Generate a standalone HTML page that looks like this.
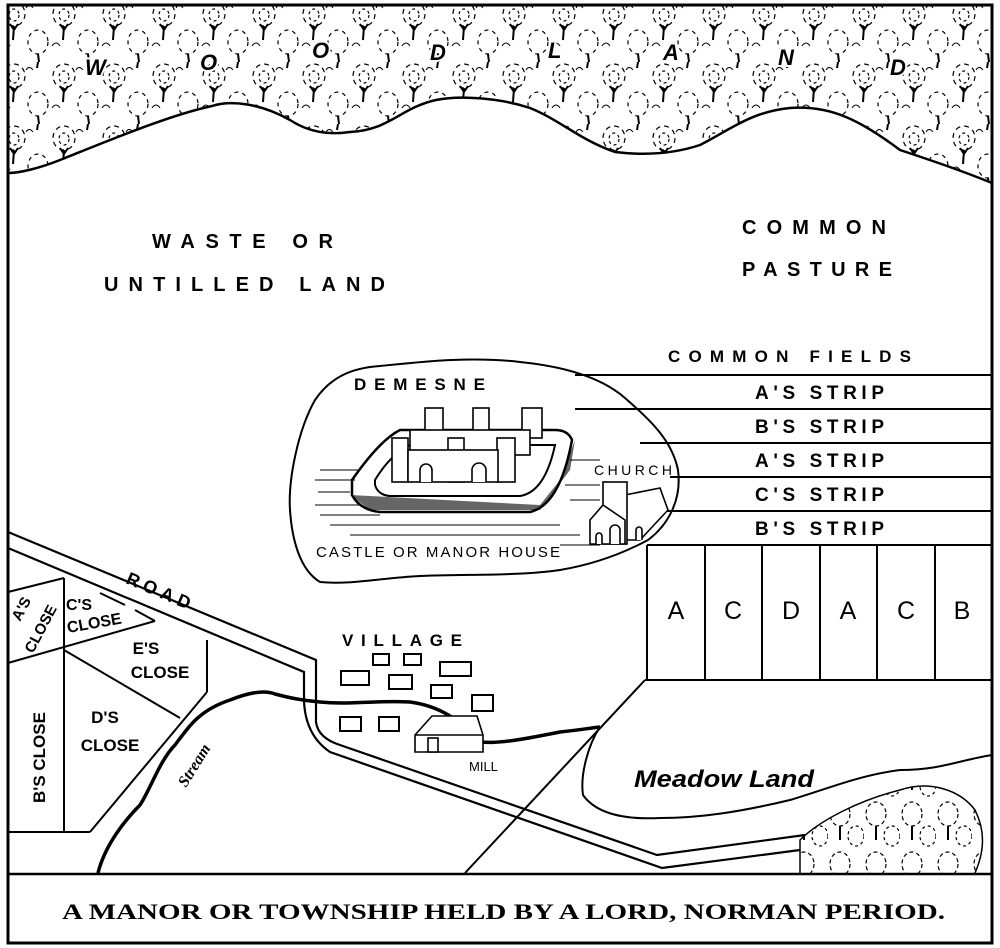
<!DOCTYPE html>
<html><head><meta charset="utf-8"><style>
html,body{margin:0;padding:0;background:#fff}
svg{display:block}
text{font-family:"Liberation Sans",sans-serif;font-weight:bold;fill:#000}
</style></head><body>
<svg width="1000" height="948" viewBox="0 0 1000 948" xmlns="http://www.w3.org/2000/svg">
<defs>
<pattern id="trees" width="50" height="62" patternUnits="userSpaceOnUse">
<g fill="none" stroke="#000" stroke-width="1.2">
<ellipse cx="14" cy="14" rx="11" ry="12" stroke-dasharray="5 4"/>
<ellipse cx="14" cy="15" rx="5" ry="6" stroke-dasharray="3 3"/>
<path d="M14 26 L13 40 M14 30 L10 24 M14 30 L18 24" stroke-width="2"/>
<ellipse cx="38" cy="42" rx="10" ry="12" stroke-dasharray="4 4"/>
<path d="M38 54 L39 62 M38 0 L37 6" stroke-width="2"/>
<path d="M2 46 q4 -6 8 0 M26 8 q3 -5 7 0" stroke-width="1"/>
</g>
</pattern>
<pattern id="trees2" width="36" height="50" patternUnits="userSpaceOnUse">
<g fill="none" stroke="#000" stroke-width="1.2">
<ellipse cx="12" cy="14" rx="10" ry="12" stroke-dasharray="4 3"/>
<path d="M12 26 L12 40" stroke-width="2"/>
<ellipse cx="28" cy="36" rx="8" ry="10" stroke-dasharray="3 3"/>
</g>
</pattern>
<clipPath id="wood"><path d="M8 5 L992 5 L992 183 C960 170 930 160 900 150 C860 120 830 105 790 108 C750 112 730 130 700 145 C670 155 640 155 615 152 C580 140 560 120 530 108 C500 98 460 95 436 100 C400 108 390 130 350 132 C330 135 310 133 290 120 C260 103 230 100 212 106 C170 115 110 140 60 160 C40 168 20 173 8 173 Z"/></clipPath>
<clipPath id="wood2"><path d="M800 873 L800 840 C820 820 860 800 900 790 C930 780 960 790 975 810 C985 830 985 850 975 873 Z"/></clipPath>
</defs>

<rect x="8" y="5" width="984" height="938" fill="none" stroke="#000" stroke-width="3"/>
<line x1="8" y1="874" x2="992" y2="874" stroke="#000" stroke-width="2.5"/>

<rect x="8" y="5" width="984" height="185" fill="url(#trees)" clip-path="url(#wood)"/>
<path d="M8 173 C20 173 40 168 60 160 C110 140 170 115 212 106 C230 100 260 103 290 120 C310 133 330 135 350 132 C390 130 400 108 436 100 C460 95 500 98 530 108 C560 120 580 140 615 152 C640 155 670 155 700 145 C730 130 750 112 790 108 C830 105 860 120 900 150 C930 160 960 170 992 183" fill="none" stroke="#000" stroke-width="2.5"/>
<g font-style="italic" font-size="22" style="paint-order:stroke" stroke="#fff" stroke-width="4">
<text x="85" y="75">W</text><text x="200" y="70">O</text><text x="312" y="58">O</text><text x="430" y="60">D</text><text x="548" y="58">L</text><text x="663" y="60">A</text><text x="778" y="65">N</text><text x="890" y="75">D</text>
</g>

<g font-size="20">
<text x="152" y="248" textLength="181" lengthAdjust="spacing">WASTE OR</text>
<text x="104" y="291" textLength="281" lengthAdjust="spacing">UNTILLED LAND</text>
<text x="742" y="234" textLength="144" lengthAdjust="spacing">COMMON</text>
<text x="742" y="276" textLength="150" lengthAdjust="spacing">PASTURE</text>
</g>
<text x="668" y="362" font-size="17" textLength="243" lengthAdjust="spacing">COMMON FIELDS</text>

<g stroke="#000" stroke-width="2">
<line x1="575" y1="375" x2="992" y2="375"/><line x1="575" y1="409" x2="992" y2="409"/>
<line x1="640" y1="443" x2="992" y2="443"/><line x1="670" y1="477" x2="992" y2="477"/>
<line x1="660" y1="511" x2="992" y2="511"/><line x1="647" y1="545" x2="992" y2="545"/>
<line x1="647" y1="545" x2="647" y2="680"/><line x1="705" y1="545" x2="705" y2="680"/>
<line x1="762" y1="545" x2="762" y2="680"/><line x1="820" y1="545" x2="820" y2="680"/>
<line x1="877" y1="545" x2="877" y2="680"/><line x1="935" y1="545" x2="935" y2="680"/>
<line x1="645" y1="680" x2="992" y2="680"/>
<line x1="645" y1="680" x2="465" y2="873"/>
</g>
<g font-size="19">
<text x="755" y="399" textLength="129" lengthAdjust="spacing">A'S STRIP</text>
<text x="755" y="433" textLength="129" lengthAdjust="spacing">B'S STRIP</text>
<text x="755" y="467" textLength="129" lengthAdjust="spacing">A'S STRIP</text>
<text x="755" y="501" textLength="129" lengthAdjust="spacing">C'S STRIP</text>
<text x="755" y="535" textLength="129" lengthAdjust="spacing">B'S STRIP</text>
</g>
<g font-size="25" text-anchor="middle">
<text x="676" y="619" style="font-weight:normal">A</text><text x="733" y="619" style="font-weight:normal">C</text>
<text x="791" y="619" style="font-weight:normal">D</text><text x="848" y="619" style="font-weight:normal">A</text>
<text x="906" y="619" style="font-weight:normal">C</text><text x="962" y="619" style="font-weight:normal">B</text>
</g>

<path d="M315 400 C330 378 350 368 380 366 C420 362 470 356 520 362 C560 366 600 376 625 398 C650 420 672 440 678 470 C682 500 668 525 648 540 C620 555 590 565 560 570 C520 576 470 574 420 576 C380 578 350 585 320 582 C300 570 292 540 290 510 C288 480 298 430 315 400 Z" fill="none" stroke="#000" stroke-width="2"/>
<text x="354" y="390" font-size="17" textLength="131" lengthAdjust="spacing">DEMESNE</text>
<text x="316" y="557" font-size="15" textLength="244" lengthAdjust="spacing" style="font-weight:normal">CASTLE OR MANOR HOUSE</text>
<text x="594" y="475" font-size="14" textLength="78" lengthAdjust="spacing" style="font-weight:normal">CHURCH</text>
<g stroke="#000" stroke-width="1">
<line x1="320" y1="470" x2="360" y2="470"/><line x1="315" y1="480" x2="355" y2="480"/><line x1="318" y1="492" x2="350" y2="492"/>
<line x1="315" y1="505" x2="360" y2="505"/><line x1="320" y1="515" x2="380" y2="515"/><line x1="330" y1="525" x2="560" y2="525"/>
<line x1="350" y1="535" x2="580" y2="535"/><line x1="560" y1="545" x2="600" y2="545"/><line x1="570" y1="460" x2="600" y2="460"/>
<line x1="565" y1="485" x2="600" y2="485"/><line x1="570" y1="500" x2="600" y2="500"/>
</g>
<path d="M350 495 L370 510 L540 510 L570 470 L575 440 L560 480 L540 505 Z" fill="#000" opacity="0.6"/>
<path d="M352 495 Q360 510 380 512 L530 512 Q560 505 572 440 Q568 430 555 430 L400 430 Q380 440 352 480 Z" fill="none" stroke="#000" stroke-width="2.5"/>
<path d="M375 485 Q378 495 390 496 L520 496 Q545 492 555 445 L410 445 Q390 455 375 480 Z" fill="none" stroke="#000" stroke-width="2"/>
<g fill="#fff" stroke="#000" stroke-width="1.6">
<rect x="425" y="408" width="18" height="30"/><rect x="473" y="408" width="16" height="30"/><rect x="522" y="408" width="20" height="30"/>
<rect x="410" y="430" width="120" height="25"/>
<rect x="392" y="438" width="16" height="44"/><rect x="448" y="438" width="16" height="44"/><rect x="497" y="438" width="18" height="44"/>
<rect x="408" y="450" width="90" height="32"/>
<path d="M420 482 v-12 a6 6 0 0 1 12 0 v12 M472 482 v-12 a7 7 0 0 1 14 0 v12"/>
</g>
<g fill="#fff" stroke="#000" stroke-width="1.6">
<path d="M625 495 L660 488 L668 510 L640 540 L625 540 Z"/>
<rect x="603" y="482" width="24" height="62"/>
<path d="M590 520 L603 505 L625 520 L625 544 L590 544 Z"/>
<path d="M610 544 v-14 a5 5 0 0 1 10 0 v14 M596 544 v-8 a3 3 0 0 1 6 0 v8 M636 540 v-10 a3 3 0 0 1 6 0 v10"/>
</g>

<g fill="none" stroke="#000" stroke-width="2.2">
<path d="M8 532 L316 660 L316 722 Q318 738 340 745 L657 855 L805 835"/>
<path d="M8 548 L304 672 L304 700 Q305 735 330 752 L662 868 L800 850"/>
</g>
<text font-size="18" transform="translate(125,583) rotate(23)" textLength="68" lengthAdjust="spacing">ROAD</text>

<g fill="none" stroke="#000" stroke-width="2">
<line x1="8" y1="592" x2="64" y2="578"/>
<line x1="8" y1="663" x2="155" y2="621"/>
<line x1="64" y1="578" x2="64" y2="833"/>
<line x1="64" y1="650" x2="180" y2="718"/>
<line x1="207" y1="640" x2="207" y2="692"/>
<line x1="207" y1="692" x2="90" y2="832"/>
<line x1="8" y1="832" x2="90" y2="832"/>
<line x1="100" y1="593" x2="125" y2="605"/>
<line x1="135" y1="610" x2="155" y2="621"/>
</g>
<g font-size="17">
<text transform="translate(20,622) rotate(-62)" font-size="15">A'S</text>
<text transform="translate(33,654) rotate(-62)" font-size="15">CLOSE</text>
<text x="66" y="610" font-size="16">C'S</text>
<text transform="translate(68,633) rotate(-10)" font-size="16">CLOSE</text>
<text x="146" y="654" text-anchor="middle">E'S</text>
<text x="160" y="678" text-anchor="middle">CLOSE</text>
<text x="105" y="723" text-anchor="middle">D'S</text>
<text x="110" y="751" text-anchor="middle">CLOSE</text>
<text transform="translate(45,803) rotate(-90)">B'S CLOSE</text>
</g>

<path d="M98 873 C105 845 125 820 140 805 C150 790 160 760 175 745 C190 725 200 710 230 700 C250 692 265 690 275 694 C290 698 300 700 320 702 C350 705 380 700 410 702 C440 706 460 720 480 742 C500 744 530 738 560 732 C580 730 590 728 600 727" fill="none" stroke="#000" stroke-width="3.5"/>
<text transform="translate(186,788) rotate(-58)" font-size="16" font-style="italic" style="font-family:'Liberation Serif',serif">Stream</text>

<path d="M600 727 C588 745 580 775 583 795 C595 812 620 820 660 818 C700 818 740 812 790 800 C830 788 860 775 900 770 C940 770 960 760 992 755" fill="none" stroke="#000" stroke-width="2"/>
<text x="634" y="787" font-size="24" font-style="italic" textLength="180" lengthAdjust="spacingAndGlyphs">Meadow Land</text>

<rect x="790" y="770" width="200" height="105" fill="url(#trees2)" clip-path="url(#wood2)"/>
<path d="M800 873 L800 840 C820 820 860 800 900 790 C930 780 960 790 975 810 C985 830 985 850 975 873" fill="none" stroke="#000" stroke-width="1.5"/>

<text x="342" y="646" font-size="17" textLength="120" lengthAdjust="spacing">VILLAGE</text>
<g fill="#fff" stroke="#000" stroke-width="2">
<rect x="373" y="654" width="16" height="11"/><rect x="404" y="654" width="17" height="11"/><rect x="440" y="662" width="31" height="14"/>
<rect x="341" y="671" width="28" height="14"/><rect x="389" y="675" width="23" height="14"/><rect x="431" y="685" width="21" height="13"/>
<rect x="472" y="695" width="21" height="16"/><rect x="340" y="717" width="21" height="14"/><rect x="379" y="717" width="20" height="14"/>
</g>
<g fill="#fff" stroke="#000" stroke-width="1.6">
<path d="M415 735 L432 716 L477 716 L483 735 L483 752 L415 752 Z"/>
<line x1="415" y1="735" x2="483" y2="735"/>
<rect x="428" y="738" width="10" height="14"/>
</g>
<text x="469" y="771" font-size="13" style="font-weight:normal">MILL</text>

<text x="62" y="919" font-size="22" textLength="883" lengthAdjust="spacingAndGlyphs" style="font-family:'Liberation Serif',serif;font-weight:bold">A MANOR OR TOWNSHIP HELD BY A LORD, NORMAN PERIOD.</text>
</svg>
</body></html>
